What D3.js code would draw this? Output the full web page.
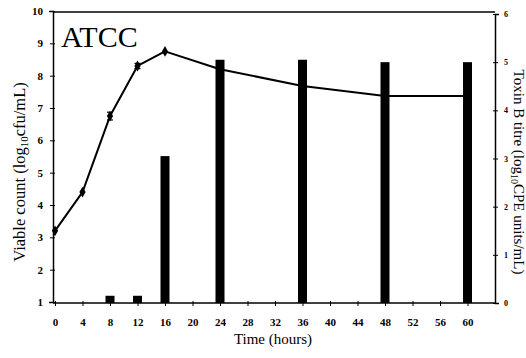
<!DOCTYPE html>
<html>
<head>
<meta charset="utf-8">
<script src="https://cdn.jsdelivr.net/npm/d3@7.9.0/dist/d3.min.js"></script>
<style>
  body { margin: 0; background: #fff; }
  svg { display: block; font-family: "Liberation Serif", "DejaVu Serif", serif; }
</style>
</head>
<body>
<svg id="chart" width="526" height="358"></svg>
<script>
// viable count (log10 cfu/mL)
const countHours = [0, 4, 8, 12, 16, 24, 36, 48, 60];
const countValues = [3.2, 4.4, 6.75, 8.3, 8.75, 8.2, 7.68, 7.37, 7.37];
const countErr = [0.05, 0.05, 0.12, 0.08, 0.06, 0, 0, 0, 0];

// toxin B titre (log10 CPE units/mL)
const toxinHours = [8, 12, 16, 24, 36, 48, 60];
const toxinValues = [0.15, 0.15, 3.05, 5.05, 5.05, 5.0, 5.0];

const xTicks = d3.range(0, 61, 4);
const leftTicks = d3.range(1, 11);
const rightTicks = d3.range(0, 7);

const svg = d3.select('#chart');

let x = d3.scaleLinear().domain([0, 64]).range([55, 495]);
let yLeft = d3.scaleLinear().domain([1, 10]).range([302, 11]);
let yRight = d3.scaleLinear().domain([0, 6]).range([303, 14]);

// frame: top line
svg.append('line')
  .attr('x1', 53).attr('x2', 495).attr('y1', 12).attr('y2', 12)
  .attr('stroke', '#000').attr('stroke-width', 1.5);

// bars for toxin
let barW = 9;
svg.append('g').selectAll('rect')
  .data(toxinHours.map((h, i) => ({ h, v: toxinValues[i] })))
  .join('rect')
  .attr('x', d => x(d.h) - barW / 2)
  .attr('width', barW)
  .attr('y', d => yRight(d.v))
  .attr('height', d => yRight(0) - yRight(d.v))
  .attr('fill', '#000');

// bottom axis
let xAxis = d3.axisBottom(x).tickValues(xTicks).tickSizeInner(4).tickSizeOuter(0).tickPadding(11);
let gx = svg.append('g').attr('transform', 'translate(0,303)').call(xAxis);
gx.select('.domain').attr('d', 'M53,0H495').attr('stroke-width', 1.5);
gx.selectAll('.tick line').attr('y1', -2).attr('y2', 3);
gx.selectAll('text').attr('font-size', 11).attr('font-weight', 'bold')
  .attr('font-family', '"Liberation Serif", serif');

// left axis
let leftAxis = d3.axisLeft(yLeft).tickValues(leftTicks).tickSize(4).tickPadding(6);
let gl = svg.append('g').attr('transform', 'translate(53,0)').call(leftAxis);
gl.select('.domain').attr('stroke-width', 1.5);
gl.selectAll('.tick line').attr('x1', 2).attr('x2', -3);
gl.selectAll('text').attr('font-size', 11).attr('font-weight', 'bold')
  .attr('font-family', '"Liberation Serif", serif');

// right axis
let rightAxis = d3.axisRight(yRight).tickValues(rightTicks).tickFormat(d3.format('d'))
  .tickSize(4).tickPadding(5);
let gr = svg.append('g').attr('transform', 'translate(495,0)').call(rightAxis);
gr.select('.domain').attr('stroke-width', 1.5);
gr.selectAll('.tick line').attr('x1', -2).attr('x2', 3);
gr.selectAll('text').attr('font-size', 8).attr('font-weight', 'bold')
  .attr('font-family', '"Liberation Serif", serif');

// viable count line
let pts = countHours.map((h, i) => ({ h, v: countValues[i], e: countErr[i] }));
let line = d3.line().x(d => x(d.h)).y(d => yLeft(d.v));
svg.append('path')
  .datum(pts)
  .attr('d', line)
  .attr('fill', 'none')
  .attr('stroke', '#000')
  .attr('stroke-width', 2)
  .attr('stroke-linejoin', 'round');

// error bars + markers for the early points
let early = pts.filter(d => d.h <= 16);
let eb = svg.append('g');
early.forEach(d => {
  if (d.e > 0.07) {
    eb.append('line')
      .attr('x1', x(d.h)).attr('x2', x(d.h))
      .attr('y1', yLeft(d.v + d.e)).attr('y2', yLeft(d.v - d.e))
      .attr('stroke', '#000').attr('stroke-width', 1.2);
    [d.v + d.e, d.v - d.e].forEach(v => {
      eb.append('line')
        .attr('x1', x(d.h) - 3).attr('x2', x(d.h) + 3)
        .attr('y1', yLeft(v)).attr('y2', yLeft(v))
        .attr('stroke', '#000').attr('stroke-width', 1.2);
    });
  }
});
svg.append('g').selectAll('path')
  .data(early)
  .join('path')
  .attr('transform', d => `translate(${x(d.h)},${yLeft(d.v)})`)
  .attr('d', d3.symbol(d3.symbolDiamond, 34))
  .attr('fill', '#000');

// panel label
svg.append('text')
  .attr('x', 61).attr('y', 47)
  .attr('font-size', 30)
  .text('ATCC');

// x title
svg.append('text')
  .attr('x', 273).attr('y', 344)
  .attr('text-anchor', 'middle')
  .attr('font-size', 15)
  .text('Time (hours)');

// left title
let lt = svg.append('text')
  .attr('transform', 'translate(25,172) rotate(-90)')
  .attr('text-anchor', 'middle')
  .attr('font-size', 16.5);
lt.append('tspan').text('Viable count (log');
lt.append('tspan').attr('font-size', 11).attr('dy', 3).text('10');
lt.append('tspan').attr('dy', -3).text('cfu/mL)');

// right title
let rt = svg.append('text')
  .attr('transform', 'translate(514,172) rotate(90)')
  .attr('text-anchor', 'middle')
  .attr('font-size', 15);
rt.append('tspan').text('Toxin B titre (log');
rt.append('tspan').attr('font-size', 10).attr('dy', 3).text('10');
rt.append('tspan').attr('dy', -3).text('CPE units/mL)');
</script>
</body>
</html>
